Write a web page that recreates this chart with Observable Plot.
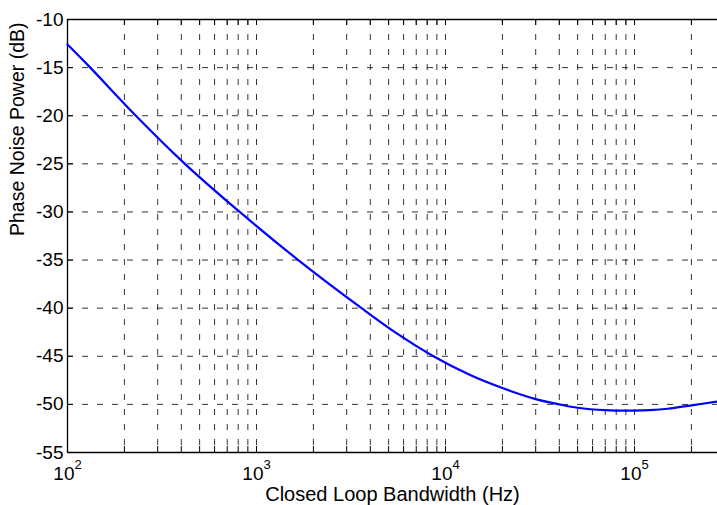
<!DOCTYPE html>
<html><head><meta charset="utf-8">
<script src="https://cdn.jsdelivr.net/npm/d3@7"></script>
<script src="https://cdn.jsdelivr.net/npm/@observablehq/plot@0.6"></script>
<style>html,body{margin:0;padding:0;background:#fff}#chart svg{display:block}</style>
</head><body><div id="chart"></div>
<script>
// ---- data ----
const freq = [100, 132, 230, 418, 815, 1663, 3597, 5500, 8630, 13500, 20000, 30000, 40000, 50000, 70000, 100000, 120000, 150000, 200000, 274800];
const powerDb = [-12.6, -15.0, -20.0, -25.0, -30.0, -35.0, -40.0, -42.6, -45.0, -46.95, -48.3, -49.45, -50.0, -50.35, -50.6, -50.65, -50.6, -50.45, -50.1, -49.7];
const yTicks = [-55, -50, -45, -40, -35, -30, -25, -20, -15, -10];
const xDecades = [1e2, 1e3, 1e4, 1e5];
const xMinor = [200, 300, 400, 500, 600, 700, 800, 900,
  2000, 3000, 4000, 5000, 6000, 7000, 8000, 9000,
  20000, 30000, 40000, 50000, 60000, 70000, 80000, 90000, 200000];
const xDomain = [100, 274800];
const yDomain = [-55, -10];
const xLabel = "Closed Loop Bandwidth (Hz)";
const yLabel = "Phase Noise Power (dB)";

// ---- layout ----
const W = 717, H = 505, mL = 67, mR = 0, mT = 19, mB = 53;
const plotH = H - mT - mB, plotW = W - mL - mR;
const font = "'Liberation Sans', Arial, Helvetica, sans-serif";
const data = freq.map((f, i) => ({f, p: powerDb[i]}));
const gridX = [...xMinor, ...xDecades].filter(d => d > xDomain[0]);
const allTicksX = [...xDecades, ...xMinor];
const gridStyle = {stroke: "#000", strokeWidth: 1, strokeDasharray: "6,9", strokeOpacity: 0.8};

const chart = Plot.plot({
  width: W, height: H,
  marginLeft: mL, marginRight: mR, marginTop: mT, marginBottom: mB,
  style: {fontFamily: font, fontSize: "19px", color: "#000", background: "#fff", overflow: "visible"},
  x: {type: "log", domain: xDomain},
  y: {domain: yDomain},
  marks: [
    Plot.ruleX(gridX, gridStyle),
    Plot.ruleY(yTicks.slice(1, -1), gridStyle),
    // inward ticks
    Plot.ruleX(allTicksX, {insetTop: plotH - 6, stroke: "#000"}),
    Plot.ruleX(allTicksX, {insetBottom: plotH - 6, stroke: "#000"}),
    Plot.ruleY(yTicks, {insetRight: plotW - 6, stroke: "#000"}),
    // axes box (right side is cut off in the reference)
    Plot.ruleX([xDomain[0]], {stroke: "#000", strokeWidth: 1.3}),
    Plot.ruleY(yDomain, {stroke: "#000", strokeWidth: 1.3}),
    // curve
    Plot.line(data, {x: "f", y: "p", stroke: "#0000ff", strokeWidth: 2.2, curve: "catmull-rom"}),
    // axes labels
    Plot.axisY(yTicks, {tickSize: 0, tickPadding: 4, label: null, fontSize: 19, tickFormat: d => String(d)}),
    Plot.axisX(xDecades, {tickSize: 0, tickPadding: 14, label: null, fontSize: 19,
      tickFormat: d => String(Math.round(Math.log10(d)))}),
    Plot.text([xLabel], {frameAnchor: "bottom", dy: 48, lineAnchor: "bottom", fontSize: 20, fill: "#000"}),
    Plot.text([yLabel], {frameAnchor: "left", dx: -50, rotate: -90, fontSize: 19.5, fill: "#000"})
  ]
});

// turn "2" into "10" with a superscript exponent
d3.select(chart).selectAll('g[aria-label="x-axis tick label"] text').each(function () {
  const e = this.textContent;
  const t = d3.select(this);
  t.text(null);
  t.append("tspan").text("10");
  t.append("tspan").attr("dy", "-11").attr("font-size", "13").text(e);
});

document.getElementById("chart").appendChild(chart);
</script>
</body></html>
